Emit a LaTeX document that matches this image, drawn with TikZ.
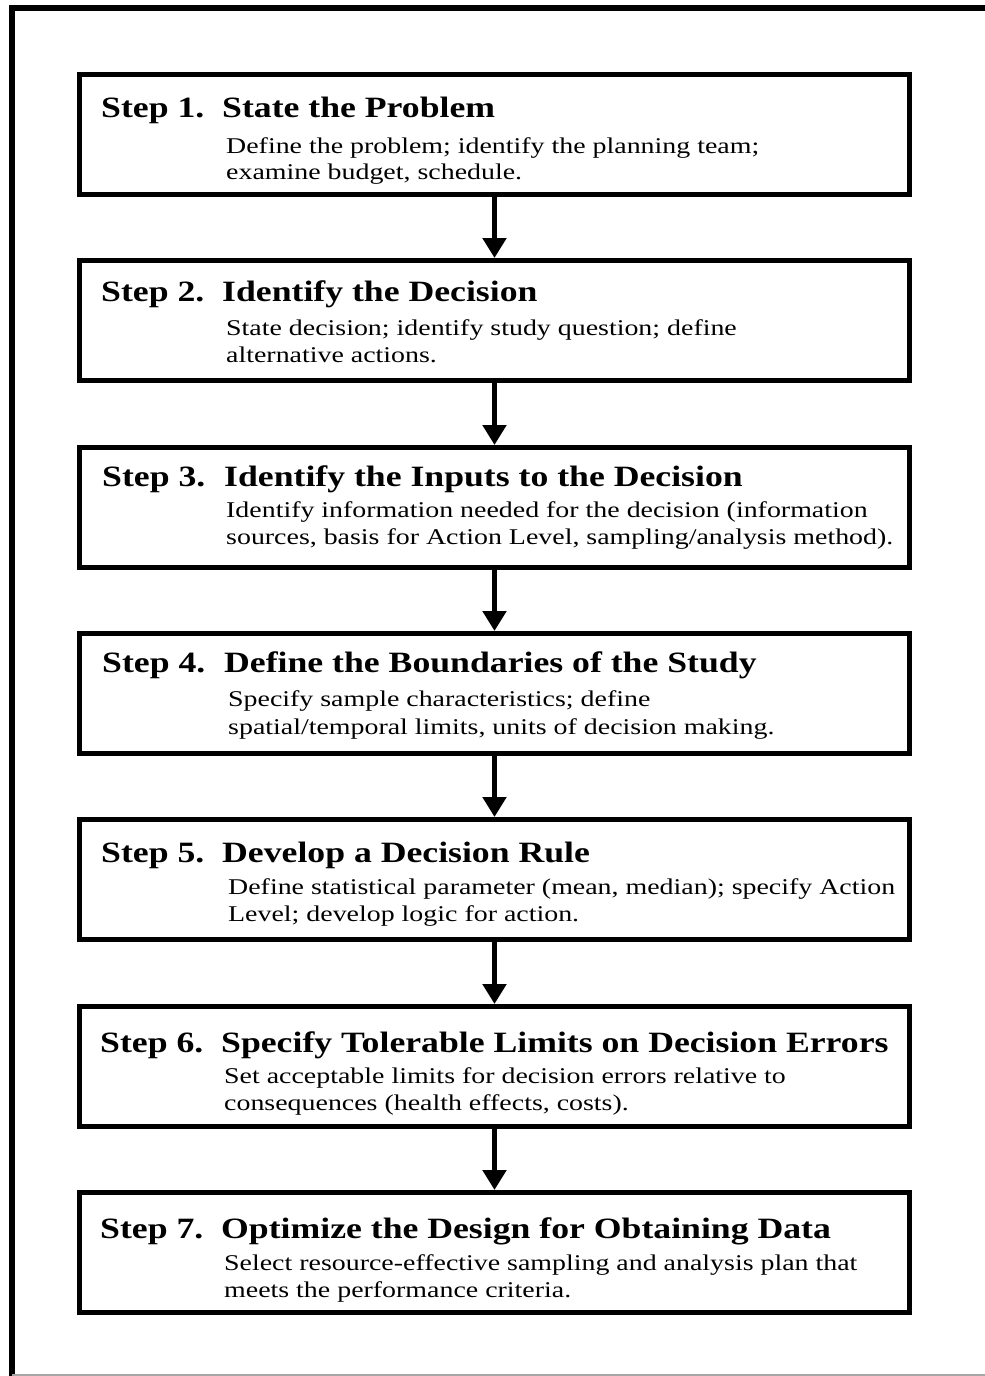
\documentclass[tikz,border=0pt]{standalone}
\usepackage{fontspec}
\setmainfont{Liberation Serif}
\newfontfamily\titlefont[FakeStretch=1.21]{Liberation Serif}
\newfontfamily\descfont[FakeStretch=1.24]{Liberation Serif}
\usetikzlibrary{arrows.meta}
\begin{document}
\begin{tikzpicture}[x=1pt,y=-1pt,
  stepbox/.style={draw, line width=5pt, minimum width=830pt, minimum height=120pt, inner sep=0pt},
  flow/.style={line width=5pt, -{Triangle[length=20pt,width=23pt]}},
  lbl/.style={anchor=base west, inner sep=0pt, font=\titlefont\bfseries\fontsize{29.5}{30}\selectfont},
  desc/.style={anchor=base west, inner sep=0pt, font=\descfont\fontsize{22.5}{26}\selectfont}]
\useasboundingbox (0,0) rectangle (985,1376);
% outer frame
\draw[line width=6pt] (12,1380) -- (12,8) -- (990,8);
\draw[gray!70, line width=1.5pt] (12,1375) -- (990,1375);
% boxes
\node[stepbox] (s1) at (494.5,134.5) {};
\node[stepbox] (s2) at (494.5,320.5) {};
\node[stepbox] (s3) at (494.5,507.5) {};
\node[stepbox] (s4) at (494.5,693.5) {};
\node[stepbox] (s5) at (494.5,879.5) {};
\node[stepbox] (s6) at (494.5,1066.5) {};
\node[stepbox] (s7) at (494.5,1252.5) {};
% arrows
\draw[flow] (s1) -- (s2);
\draw[flow] (s2) -- (s3);
\draw[flow] (s3) -- (s4);
\draw[flow] (s4) -- (s5);
\draw[flow] (s5) -- (s6);
\draw[flow] (s6) -- (s7);
% texts
\node[lbl] (n1) at (101,117) {Step 1.};
\node[lbl] (t1) at (222,117) {State the Problem};
\node[desc] (d1a) at (226,153) {Define the problem; identify the planning team;};
\node[desc] (d1b) at (226,179) {examine budget, schedule.};
\node[lbl] (n2) at (101,301) {Step 2.};
\node[lbl] (t2) at (222,301) {Identify the Decision};
\node[desc] (d2a) at (226,335) {State decision; identify study question; define};
\node[desc] (d2b) at (226,362) {alternative actions.};
\node[lbl] (n3) at (102,486) {Step 3.};
\node[lbl] (t3) at (224,486) {Identify the Inputs to the Decision};
\node[desc] (d3a) at (226,517) {Identify information needed for the decision (information};
\node[desc] (d3b) at (226,544) {sources, basis for Action Level, sampling/analysis method).};
\node[lbl] (n4) at (102,672) {Step 4.};
\node[lbl] (t4) at (224,672) {Define the Boundaries of the Study};
\node[desc] (d4a) at (228,706) {Specify sample characteristics; define};
\node[desc] (d4b) at (228,734) {spatial/temporal limits, units of decision making.};
\node[lbl] (n5) at (101,862) {Step 5.};
\node[lbl] (t5) at (222,862) {Develop a Decision Rule};
\node[desc] (d5a) at (228,894) {Define statistical parameter (mean, median); specify Action};
\node[desc] (d5b) at (228,921) {Level; develop logic for action.};
\node[lbl] (n6) at (100,1052) {Step 6.};
\node[lbl] (t6) at (221,1052) {Specify Tolerable Limits on Decision Errors};
\node[desc] (d6a) at (224,1083) {Set acceptable limits for decision errors relative to};
\node[desc] (d6b) at (224,1110) {consequences (health effects, costs).};
\node[lbl] (n7) at (100,1238) {Step 7.};
\node[lbl] (t7) at (221,1238) {Optimize the Design for Obtaining Data};
\node[desc] (d7a) at (224,1270) {Select resource-effective sampling and analysis plan that};
\node[desc] (d7b) at (224,1297) {meets the performance criteria.};
\end{tikzpicture}
\end{document}
